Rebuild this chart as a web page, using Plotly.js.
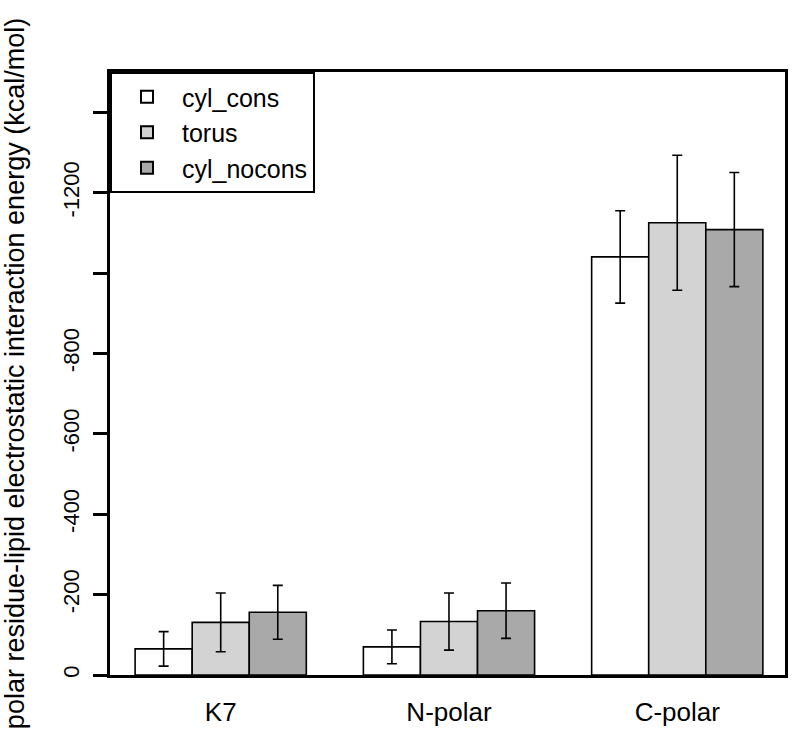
<!DOCTYPE html>
<html>
<head>
<meta charset="utf-8">
<script src="https://cdn.plot.ly/plotly-3.0.1.min.js"></script>
<style>html,body{margin:0;padding:0;background:#fff;}#chart{width:800px;height:746px;}</style>
</head>
<body>
<div id="chart"></div>
<script>
const categories = ["K7", "N-polar", "C-polar"];
const seriesNames = ["cyl_cons", "torus", "cyl_nocons"];
const cylConsValues = [-65, -70, -1040];
const cylConsErrors = [43, 42, 115];
const torusValues = [-131, -133, -1125];
const torusErrors = [73, 71, 168];
const cylNoconsValues = [-156, -160, -1108];
const cylNoconsErrors = [67, 69, 142];
const yTickValues = [0, -200, -400, -600, -800, -1000, -1200, -1400];
const yTickLabels = ["0", "-200", "-400", "-600", "-800", "", "-1200", ""];
const colors = ["#ffffff", "#d3d3d3", "#a9a9a9"];

const font = "Liberation Sans, Arial, sans-serif";
function mk(name, vals, errs, color) {
  return {
    type: "bar", name: name, x: categories, y: vals,
    marker: {color: color, line: {color: "#000", width: 1.6}},
    error_y: {type: "data", array: errs, visible: true, color: "#000", thickness: 1.6, width: 5}
  };
}
const data = [
  mk(seriesNames[0], cylConsValues, cylConsErrors, colors[0]),
  mk(seriesNames[1], torusValues, torusErrors, colors[1]),
  mk(seriesNames[2], cylNoconsValues, cylNoconsErrors, colors[2])
];
const layout = {
  width: 800, height: 746,
  margin: {l: 110, r: 15, t: 72, b: 71},
  paper_bgcolor: "#fff", plot_bgcolor: "#fff",
  font: {family: font, size: 22, color: "#000"},
  barmode: "group", bargap: 0.25, bargroupgap: 0,
  showlegend: true,
  legend: {x: 0, y: 1, xanchor: "left", yanchor: "top", bgcolor: "#fff",
           bordercolor: "#000", borderwidth: 2, font: {size: 25, family: font},
           tracegroupgap: 0, itemsizing: "constant", itemwidth: 60},
  xaxis: {range: [-0.485, 2.472], showline: true, mirror: true, linecolor: "#000", linewidth: 3,
          ticks: "", showgrid: false, zeroline: false, tickfont: {size: 26},
          ticklabelstandoff: 12},
  yaxis: {range: [0, -1500], showline: true, mirror: true, linecolor: "#000", linewidth: 3,
          tickmode: "array", tickvals: yTickValues, ticktext: yTickLabels,
          ticks: "outside", ticklen: 14, tickwidth: 2.5, tickcolor: "#000",
          tickangle: -90, tickfont: {size: 22}, ticklabelstandoff: 5,
          showgrid: false, zeroline: false,
          title: {text: "polar residue-lipid electrostatic interaction energy (kcal/mol)",
                  font: {size: 27}, standoff: 28}}
};
Plotly.newPlot("chart", data, layout, {displayModeBar: false});
</script>
</body>
</html>
